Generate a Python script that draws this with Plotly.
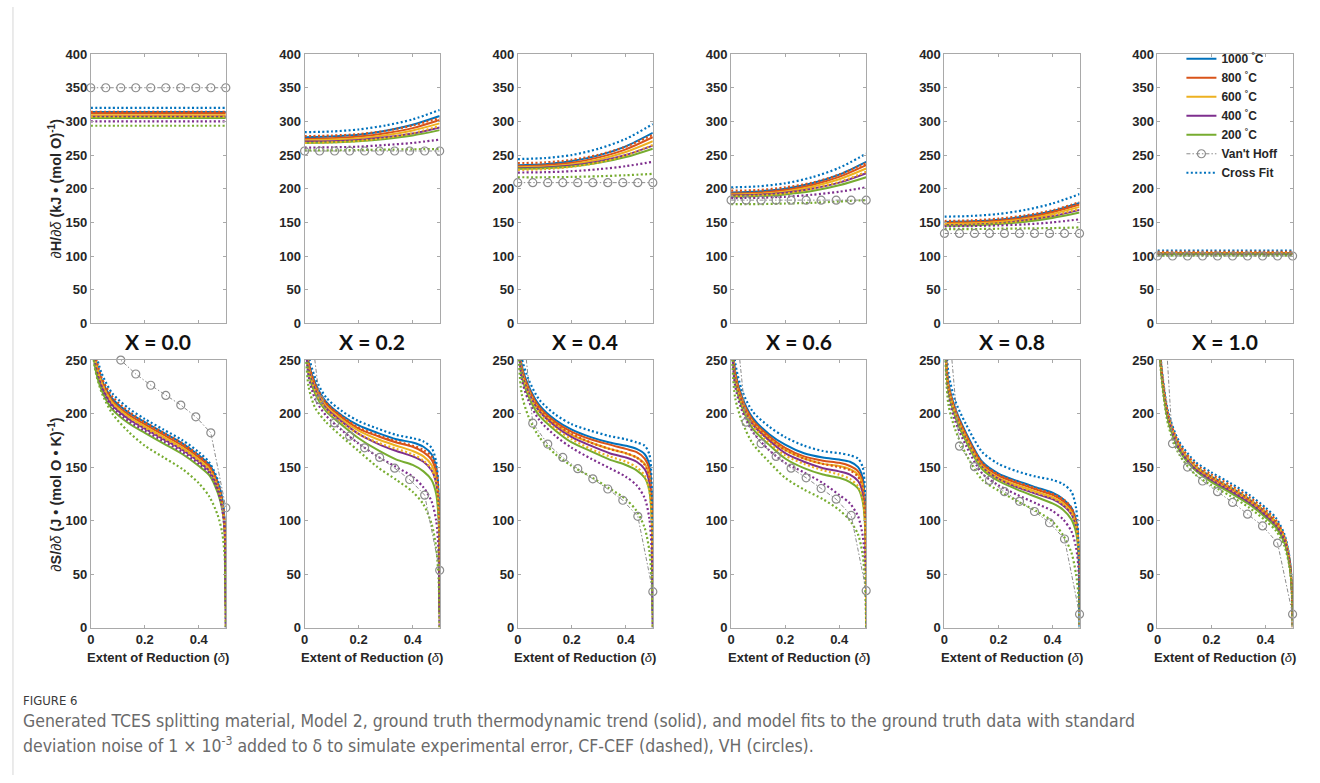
import plotly.graph_objects as go

# ---------------- data ----------------
DH = [0, 0.1, 0.2, 0.3, 0.4, 0.5]
DS = [0.003, 0.015, 0.04, 0.08, 0.14, 0.2, 0.27, 0.34, 0.4, 0.44, 0.47, 0.487, 0.496, 0.5]
DV = [0, 0.0556, 0.1111, 0.1667, 0.2222, 0.2778, 0.3333, 0.3889, 0.4444, 0.5]
X_LABELS = ["X = 0.0", "X = 0.2", "X = 0.4", "X = 0.6", "X = 0.8", "X = 1.0"]
TEMPS = ["1000", "800", "600", "400", "200"]
X_TICKS = [0, 0.2, 0.4]
X_TICK_TEXT = ["0", "0.2", "0.4"]

# dH/d(delta), ground truth (solid), per panel X = 0.0 ... 1.0
H_GT_1000 = [[314, 314, 314, 314, 314, 314], [276.5, 277.5, 280, 286, 295, 308], [235, 236.5, 241, 249.5, 263, 283],
             [194.5, 196, 200, 208, 221, 240], [150.5, 151.5, 154, 159, 167, 179], [104.5, 104.5, 104.5, 104.5, 104.5, 104.5]]
H_GT_800 = [[312, 312, 312, 312, 312, 312], [274, 275, 277.5, 282.5, 290, 302], [233.5, 235, 238.5, 246.5, 258.5, 276.5],
            [193, 194, 198, 205.5, 217.5, 235], [149, 150, 152.5, 157, 165, 176.5], [104, 104, 104, 104, 104, 104]]
H_GT_600 = [[309, 309, 309, 309, 309, 309], [272, 273, 275, 279.5, 286.5, 297], [232, 233, 236.5, 243.5, 254.5, 270.5],
            [191.5, 192.5, 196, 203, 214, 230], [147.5, 148.5, 150.5, 155, 162.5, 173], [103.5, 103.5, 103.5, 103.5, 103.5, 103.5]]
H_GT_400 = [[307, 307, 307, 307, 307, 307], [270, 270.5, 272.5, 276.5, 282, 291], [230.5, 231.5, 234.5, 240.5, 250, 264],
            [190, 191, 194, 200, 209, 223], [146, 146.5, 148.5, 153, 159, 168.5], [103, 103, 103, 103, 103, 103]]
H_GT_200 = [[305, 305, 305, 305, 305, 305], [268, 268.5, 270.5, 274, 279, 287], [229.5, 230.5, 233, 238.5, 247, 259.5],
            [188, 189, 191.5, 196.5, 205, 217], [145, 145.5, 147.5, 151, 156.5, 164.5], [102.5, 102.5, 102.5, 102.5, 102.5, 102.5]]
# dH/d(delta), cross fit (dotted)
H_CF_1000 = [[320, 320, 320, 320, 320, 320], [284, 285, 288, 294, 303, 317], [244, 245.5, 250, 259.5, 274, 296],
             [202, 203.5, 208, 217, 231, 252], [158.5, 159.5, 162.5, 168.5, 178, 192], [108, 108, 108, 108, 108, 108]]
H_CF_800 = [[314, 314, 314, 314, 314, 314], [278, 279, 281, 286, 294, 305], [238, 239, 243, 250.5, 262.5, 280],
            [197, 198, 202, 209, 221, 238], [152, 153, 155.5, 160.5, 168, 180], [106, 106, 106, 106, 106, 106]]
H_CF_600 = [[307, 307, 307, 307, 307, 307], [268, 269, 271, 275.5, 282.5, 293], [228, 229, 232.5, 239, 249.5, 265],
            [189, 190, 193, 200, 210, 225], [146, 147, 149, 153, 160, 170], [104, 104, 104, 104, 104, 104]]
H_CF_400 = [[300, 300, 300, 300, 300, 300], [261, 261.5, 262.5, 265, 268, 273], [224, 224.5, 226, 229, 233.5, 240],
            [186, 186.5, 188, 191, 195.5, 202], [144, 144.5, 145.5, 147, 150, 154.5], [102, 102, 102, 102, 102, 102]]
H_CF_200 = [[293.5, 293.5, 293.5, 293.5, 293.5, 293.5], [257, 257, 257.5, 258, 258.5, 259], [217, 217, 217.5, 218.5, 220, 222],
            [177, 177, 178, 179, 181, 183], [140, 140, 140.5, 141, 141.5, 142.5], [100.5, 100.5, 100.5, 100.5, 100.5, 100.5]]
# dH/d(delta), Van't Hoff (constant per panel)
H_VH = [350, 256, 209, 183, 133.5, 100]

# dS/d(delta), ground truth (solid)
S_GT_1000 = [[300, 255, 232, 214, 201, 192, 182, 172, 161, 152, 136, 120, 98, 20],
             [290, 248, 228, 211, 198, 189, 182, 176, 173, 169, 162, 150, 125, 15],
             [285, 245, 226, 208, 194, 185, 178, 173, 170, 167, 162, 152, 125, 15],
             [280, 240, 216, 196, 181, 171, 163, 159, 157, 155, 150, 140, 115, 15],
             [270, 228, 205, 182, 155, 144, 137, 131, 126, 120, 112, 100, 80, 15],
             [290, 240, 197, 170, 151, 141, 131, 120, 108, 98, 84, 66, 45, 12]]
S_GT_800 = [[298, 253, 230, 212, 199, 190, 180, 170, 159, 150, 134, 118, 96, 20],
            [288, 246, 226, 209, 196, 186, 179, 173, 169, 164, 157, 145, 120, 15],
            [283, 243, 224, 206, 192, 183, 176, 171, 167, 164, 158, 148, 120, 15],
            [278, 238, 214, 194, 179, 168, 160, 156, 154, 151, 146, 136, 110, 15],
            [268, 226, 203, 180, 153, 142, 135, 129, 124, 118, 110, 98, 78, 15],
            [289, 239, 196, 169, 150, 140, 130, 119, 107, 97, 83, 65, 44, 12]]
S_GT_600 = [[296, 251, 228, 210, 197, 188, 178, 168, 157, 148, 132, 116, 94, 20],
            [286, 244, 224, 207, 194, 184, 176, 170, 165, 160, 152, 140, 115, 15],
            [281, 241, 222, 204, 190, 180, 173, 167, 163, 159, 153, 142, 115, 15],
            [276, 236, 212, 192, 177, 166, 158, 153, 151, 148, 143, 132, 105, 15],
            [266, 224, 201, 178, 151, 140, 133, 127, 122, 116, 108, 96, 76, 15],
            [288, 238, 195, 168, 149, 138, 128, 117, 105, 95, 81, 63, 43, 12]]
S_GT_400 = [[294, 249, 226, 208, 195, 186, 176, 166, 155, 146, 130, 114, 92, 20],
            [284, 242, 222, 205, 192, 181, 172, 165, 160, 155, 147, 135, 110, 15],
            [279, 239, 220, 202, 188, 178, 170, 163, 159, 155, 148, 136, 110, 15],
            [274, 234, 210, 190, 175, 163, 155, 149, 146, 143, 137, 126, 100, 15],
            [264, 222, 199, 176, 150, 139, 131, 125, 120, 114, 106, 94, 74, 15],
            [287, 237, 194, 167, 148, 137, 127, 116, 104, 94, 80, 62, 42, 12]]
S_GT_200 = [[290, 245, 222, 204, 191, 182, 172, 162, 151, 142, 126, 110, 88, 20],
            [280, 238, 218, 202, 189, 177, 166, 157, 152, 146, 138, 125, 100, 15],
            [275, 235, 216, 198, 184, 173, 165, 157, 152, 147, 140, 128, 100, 15],
            [270, 230, 206, 186, 171, 158, 149, 143, 140, 136, 130, 118, 95, 15],
            [262, 220, 197, 174, 148, 137, 129, 122, 116, 110, 101, 89, 70, 15],
            [286, 236, 193, 166, 147, 136, 126, 115, 103, 93, 79, 61, 41, 12]]
# dS/d(delta), cross fit (dotted)
S_CF_1000 = [[310, 262, 238, 219, 205, 195, 185, 175, 164, 154, 138, 118, 95, 0],
             [300, 255, 233, 215, 202, 193, 186, 180, 177, 174, 168, 155, 125, 0],
             [295, 252, 232, 213, 199, 190, 184, 179, 176, 173, 170, 162, 135, 0],
             [292, 248, 222, 202, 188, 178, 170, 165, 163, 161, 158, 150, 125, 0],
             [280, 238, 212, 190, 164, 153, 146, 141, 138, 134, 127, 112, 85, 0],
             [294, 244, 201, 174, 155, 145, 135, 124, 112, 102, 87, 68, 46, 0]]
S_CF_800 = [[304, 258, 234, 216, 202, 192, 182, 172, 161, 151, 135, 117, 94, 0],
            [292, 248, 227, 210, 197, 187, 180, 174, 170, 166, 160, 148, 120, 0],
            [282, 242, 223, 205, 190, 181, 173, 167, 163, 159, 152, 140, 110, 0],
            [276, 236, 212, 192, 177, 166, 158, 153, 150, 147, 141, 130, 105, 0],
            [268, 226, 203, 180, 154, 143, 136, 130, 125, 120, 112, 100, 78, 0],
            [292, 242, 199, 172, 153, 143, 133, 122, 110, 100, 85, 66, 44, 0]]
S_CF_600 = [[298, 252, 229, 210, 197, 187, 177, 167, 156, 147, 131, 114, 92, 0],
            [284, 241, 221, 204, 191, 181, 173, 167, 162, 156, 148, 135, 110, 0],
            [278, 238, 219, 201, 186, 176, 167, 160, 155, 150, 142, 128, 100, 0],
            [273, 233, 209, 189, 173, 161, 153, 147, 143, 139, 132, 120, 95, 0],
            [265, 223, 200, 177, 150, 139, 132, 126, 121, 115, 107, 95, 74, 0],
            [290, 240, 197, 170, 151, 141, 131, 120, 108, 98, 84, 65, 43, 0]]
S_CF_400 = [[292, 247, 224, 206, 193, 184, 174, 164, 153, 144, 128, 110, 88, 0],
            [275, 235, 213, 198, 184, 172, 160, 150, 141, 131, 118, 100, 70, 0],
            [270, 232, 212, 194, 179, 168, 158, 149, 141, 133, 121, 102, 70, 0],
            [265, 226, 203, 183, 166, 154, 145, 135, 124, 116, 104, 86, 60, 0],
            [258, 216, 193, 170, 144, 133, 124, 116, 109, 101, 90, 75, 55, 0],
            [287, 237, 194, 167, 148, 138, 128, 117, 105, 95, 81, 63, 42, 0]]
S_CF_200 = [[275, 243, 220, 200, 183, 170, 159, 148, 135, 122, 105, 88, 65, 0],
            [265, 225, 205, 192, 178, 165, 150, 138, 127, 115, 97, 75, 45, 0],
            [255, 218, 197, 178, 162, 151, 141, 130, 120, 109, 93, 72, 42, 0],
            [255, 215, 193, 172, 155, 140, 129, 120, 110, 100, 87, 68, 40, 0],
            [250, 208, 185, 162, 138, 128, 118, 109, 99, 86, 70, 50, 30, 0],
            [283, 233, 189, 162, 143, 133, 123, 112, 100, 90, 76, 59, 39, 0]]
# dS/d(delta), Van't Hoff circles
S_VH = [[320, 270, 250, 237, 226.5, 217, 208, 197, 182, 112],
        [330, 213, 191.3, 179, 168, 159, 149, 138.4, 123.8, 53.5],
        [330, 191, 171.5, 159, 148.5, 139, 129.5, 119, 104, 33.6],
        [330, 192, 172, 160, 149, 140, 130, 120, 104.8, 34.5],
        [330, 169.6, 150.4, 137.5, 127, 118, 108.5, 98, 82.8, 12.5],
        [400, 172, 150, 137, 127, 117, 106, 95, 79, 12.5]]

H_GT = [H_GT_1000, H_GT_800, H_GT_600, H_GT_400, H_GT_200]
H_CF = [H_CF_1000, H_CF_800, H_CF_600, H_CF_400, H_CF_200]
S_GT = [S_GT_1000, S_GT_800, S_GT_600, S_GT_400, S_GT_200]
S_CF = [S_CF_1000, S_CF_800, S_CF_600, S_CF_400, S_CF_200]

# ---------------- styling / layout ----------------
COLORS = ["#0072BD", "#D95319", "#EDB120", "#7E2F8E", "#77AC30"]
VH_COLOR = "#8c8c8c"
W, H = 1320, 783
LEFTS = [87, 301.5, 515.3, 729.3, 943.3, 1157]
PW = 135.5
TOP_Y = (48, 322.5)
BOT_Y = (360, 632.7)
DOT = "2px,2.4px"
CAP_FONT = "DejaVu Sans Condensed, Liberation Sans Narrow, Liberation Sans"


def fx(p):
    return p / W


def fy(p):
    return 1 - p / H


fig = go.Figure()
layout = {}
tickfont = dict(family="Liberation Sans, Arial", size=13, color="#262626", weight="bold")
axis_common = dict(showgrid=False, zeroline=False, showline=True, linecolor="#a9a9a9", linewidth=1,
                   mirror="ticks", ticks="inside", ticklen=3, tickcolor="#a9a9a9", tickwidth=1,
                   tickfont=tickfont, fixedrange=True)

for i in range(6):
    for row in range(2):
        n = i + 1 + row * 6
        xa = "xaxis" if n == 1 else f"xaxis{n}"
        ya = "yaxis" if n == 1 else f"yaxis{n}"
        ys = TOP_Y if row == 0 else BOT_Y
        layout[xa] = dict(axis_common, domain=[fx(LEFTS[i]), fx(LEFTS[i] + PW)], anchor=f"y{n}",
                          range=[0, 0.5], tickvals=X_TICKS, ticktext=X_TICK_TEXT,
                          showticklabels=(row == 1))
        layout[ya] = dict(axis_common, domain=[fy(ys[1]), fy(ys[0])], anchor=f"x{n}",
                          range=[0, 400] if row == 0 else [0, 250], dtick=50, tick0=0)

        xr = f"x{n}"
        yr = f"y{n}"
        show = (row == 0 and i == 5)
        if row == 0:
            gt, cf, d = H_GT, H_CF, DH
            vh = [H_VH[i]] * len(DV)
        else:
            gt, cf, d = S_GT, S_CF, DS
            vh = S_VH[i]
        for k in range(5):
            fig.add_trace(go.Scatter(
                x=d, y=gt[k][i], mode="lines", xaxis=xr, yaxis=yr,
                line=dict(color=COLORS[k], width=2, shape="spline", smoothing=0.8),
                name=f"{TEMPS[k]} <sup>°</sup>C", showlegend=show, legendrank=k + 1, hoverinfo="skip"))
        for k in range(5):
            fig.add_trace(go.Scatter(
                x=d, y=cf[k][i], mode="lines", xaxis=xr, yaxis=yr,
                line=dict(color=COLORS[k], width=2.2, dash=DOT, shape="spline", smoothing=0.8),
                name="Cross Fit", showlegend=(show and k == 0), legendrank=10, hoverinfo="skip"))
        fig.add_trace(go.Scatter(
            x=DV, y=vh, mode="lines+markers", xaxis=xr, yaxis=yr, cliponaxis=False,
            line=dict(color=VH_COLOR, width=1, dash="4px,2px,1.5px,2px"),
            marker=dict(symbol="circle-open", size=8, color=VH_COLOR, line=dict(width=1.2, color=VH_COLOR)),
            name="Van't Hoff", showlegend=show, legendrank=9, hoverinfo="skip"))

annotations = []
for i in range(6):
    cx = fx(LEFTS[i] + PW / 2)
    annotations.append(dict(x=cx, y=fy(341), xref="paper", yref="paper", text=X_LABELS[i], showarrow=False,
                            xanchor="center", yanchor="middle",
                            font=dict(family="Lato, Open Sans", size=21, color="#111111", weight="bold")))
    annotations.append(dict(x=cx, y=fy(663), xref="paper", yref="paper",
                            text="<b>Extent of Reduction (</b><i>δ</i><b>)</b>", showarrow=False,
                            xanchor="center", yanchor="middle",
                            font=dict(family="Liberation Sans, Arial", size=13, color="#262626")))
annotations.append(dict(x=fx(51), y=fy((TOP_Y[0] + TOP_Y[1]) / 2), xref="paper", yref="paper", textangle=-90,
                        text="<i>∂</i><b>H/</b><i>∂δ</i><b> (kJ • (mol O)<sup>-1</sup>)</b>", showarrow=False,
                        xanchor="center", yanchor="middle",
                        font=dict(family="Liberation Sans, Arial", size=14.5, color="#262626")))
annotations.append(dict(x=fx(51), y=fy((BOT_Y[0] + BOT_Y[1]) / 2), xref="paper", yref="paper", textangle=-90,
                        text="<i>∂</i><b>S/</b><i>∂δ</i><b> (J • (mol O • K)<sup>-1</sup>)</b>", showarrow=False,
                        xanchor="center", yanchor="middle",
                        font=dict(family="Liberation Sans, Arial", size=14.5, color="#262626")))
# caption
annotations.append(dict(x=fx(17), y=fy(707), xref="paper", yref="paper", text="FIGURE 6", showarrow=False,
                        xanchor="left", yanchor="middle",
                        font=dict(family=CAP_FONT, size=13, color="#3a3a3a")))
annotations.append(dict(x=fx(17), y=fy(728), xref="paper", yref="paper", showarrow=False,
                        text="Generated TCES splitting material, Model 2, ground truth thermodynamic trend (solid), "
                             "and model fits to the ground truth data with standard",
                        xanchor="left", yanchor="middle",
                        font=dict(family=CAP_FONT, size=17.5, color="#6a6a6a")))
annotations.append(dict(x=fx(17), y=fy(752), xref="paper", yref="paper", showarrow=False,
                        text="deviation noise of 1 × 10<sup>-3</sup> added to δ to simulate experimental error, "
                             "CF-CEF (dashed), VH (circles).",
                        xanchor="left", yanchor="middle",
                        font=dict(family=CAP_FONT, size=17.5, color="#6a6a6a")))

shapes = [dict(type="line", xref="paper", yref="paper", x0=fx(9), x1=fx(9), y0=0, y1=1,
               line=dict(color="#d6d6d6", width=1))]

fig.update_layout(
    width=W, height=H, margin=dict(l=0, r=0, t=0, b=0),
    paper_bgcolor="white", plot_bgcolor="white",
    showlegend=True,
    legend=dict(x=fx(1181), y=fy(38), xanchor="left", yanchor="top", bgcolor="rgba(255,255,255,0)",
                borderwidth=0, font=dict(family="Liberation Sans, Arial", size=12, color="#262626", weight="bold"),
                itemwidth=30, tracegroupgap=0, traceorder="normal"),
    annotations=annotations, shapes=shapes,
    **layout)

fig.write_html("out.html")
